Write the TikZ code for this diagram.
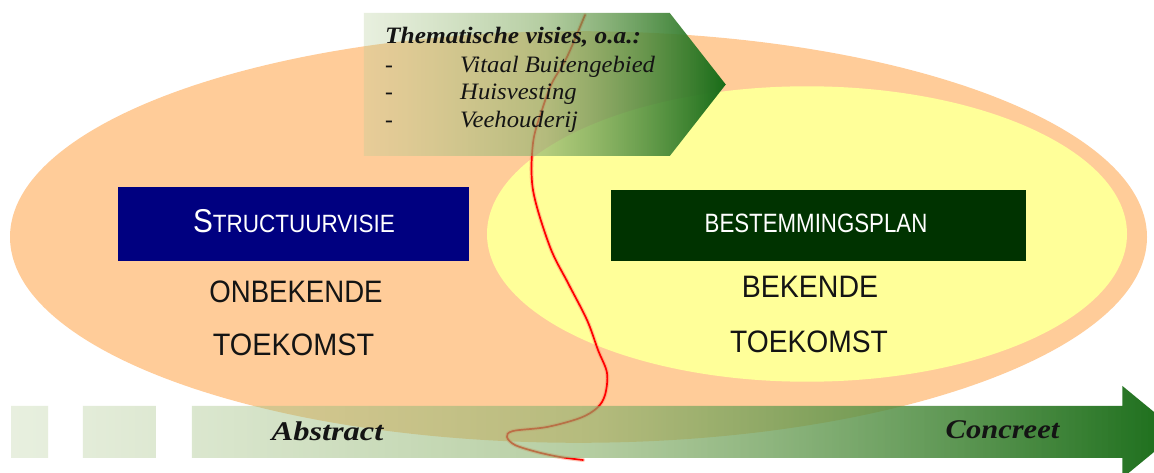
\documentclass[tikz,border=0pt]{standalone}
\usepackage{fontspec}
\setmainfont{Liberation Serif}
\newfontfamily\sansf{Liberation Sans}
\usetikzlibrary{fadings}
\definecolor{orangefill}{HTML}{FFCC99}
\definecolor{yellowfill}{HTML}{FFFF99}
\definecolor{navybox}{HTML}{000080}
\definecolor{greenbox}{HTML}{003300}
\definecolor{gLeft}{RGB}{180,205,150}
\definecolor{gMid}{RGB}{140,178,110}
\definecolor{gRight}{RGB}{24,108,24}
\definecolor{txt}{HTML}{141414}
\definecolor{redline}{HTML}{FF0000}
\definecolor{redhalo}{HTML}{FF8A6A}
\tikzfading[name=fadeeast, left color=transparent!70, right color=transparent!0]
\begin{document}
\begin{tikzpicture}[x=1pt,y=-1pt,
  greenshade/.style={left color=gLeft, right color=gRight, middle color=gMid, path fading=fadeeast},
  capsfont/.style={font=\sansf\fontsize{31}{31}\selectfont, text=txt, inner sep=0pt, anchor=base},
  boxtext/.style={font=\sansf, text=white, inner sep=0pt, anchor=base},
  vbox/.style={draw=none, inner sep=0pt, minimum width=#1},
  itemtext/.style={font=\fontsize{23.5}{23.5}\selectfont\itshape, text=txt, inner sep=0pt, anchor=base west},
  axistext/.style={font=\fontsize{27}{27}\selectfont\bfseries\itshape, text=txt, inner sep=0pt, anchor=base}]
\useasboundingbox (0,0) rectangle (1154,473);
\clip (0,0) rectangle (1154,473);
\fill[white] (0,0) rectangle (1154,473);
% ellipses
\fill[orangefill] (578.5,237) ellipse [x radius=568.5pt, y radius=205.8pt];
\fill[yellowfill] (807,234) ellipse [x radius=320pt, y radius=147.7pt];
% red boundary curve
\coordinate (rtop) at (585,15);
\coordinate (rbot) at (583,460);
\draw[redhalo, line width=4pt, opacity=0.45, line cap=round]
  plot[smooth, tension=0.55] coordinates {(585,15) (567,57) (552,83) (542,110) (533,143) (533,190) (550,247) (568,283) (587,320) (598,350) (607,373) (605,395) (597,408) (580,418) (547,427) (513,431) (507,437) (515,445) (537,452) (560,457) (583,460)};
\draw[redline, line width=1.7pt, line cap=round]
  plot[smooth, tension=0.55] coordinates {(585,15) (567,57) (552,83) (542,110) (533,143) (533,190) (550,247) (568,283) (587,320) (598,350) (607,373) (605,395) (597,408) (580,418) (547,427) (513,431) (507,437) (515,445) (537,452) (560,457) (583,460)};
% top pentagon arrow
\shade[greenshade] (364,13) -- (670,13) -- (726,84.5) -- (670,156) -- (364,156) -- cycle;
% bottom arrow with squares
\shade[greenshade] (12,406) rectangle (49,458) (84,406) rectangle (157,458)
  (193,406) -- (1125,406) -- (1125,386) -- (1181,432) -- (1125,478) -- (1125,458) -- (193,458) -- cycle;
% boxes
\node[vbox=351pt, minimum height=74pt, fill=navybox] (sbox) at (293.5,224) {};
\node[vbox=415pt, minimum height=71pt, fill=greenbox] (bbox) at (818.5,225.5) {};
\node[boxtext] (stxt) at (294,233) {\scalebox{0.9}[1]{{\fontsize{33}{33}\selectfont S}{\fontsize{25}{25}\selectfont TRUCTUURVISIE}}};
\node[boxtext] (btxt) at (816,233) {\scalebox{0.84}[1]{\fontsize{26.5}{26.5}\selectfont BESTEMMINGSPLAN}};
% caption texts
\node[capsfont] (onb) at (296,302) {\scalebox{0.89}[1]{ONBEKENDE}};
\node[capsfont] (toe1) at (293.5,355) {\scalebox{0.93}[1]{TOEKOMST}};
\node[capsfont] (bek) at (810,297) {\scalebox{0.92}[1]{BEKENDE}};
\node[capsfont] (toe2) at (809,352) {\scalebox{0.91}[1]{TOEKOMST}};
% thematic visions
\node[itemtext] (tv) at (385,44) {\scalebox{1.08}[1]{\bfseries Thematische visies, o.a.:}};
\node[itemtext] (tv1) at (385,73) {\makebox[75pt][l]{-}\scalebox{1.05}[1]{Vitaal Buitengebied}};
\node[itemtext] (tv2) at (385,100) {\makebox[75pt][l]{-}\scalebox{1.05}[1]{Huisvesting}};
\node[itemtext] (tv3) at (385,128) {\makebox[75pt][l]{-}\scalebox{1.05}[1]{Veehouderij}};
% axis labels
\node[axistext] (abs) at (327.5,440) {\scalebox{1.2}[1]{Abstract}};
\node[axistext] (con) at (1002.5,438) {\scalebox{1.13}[1]{Concreet}};
\end{tikzpicture}
\end{document}
